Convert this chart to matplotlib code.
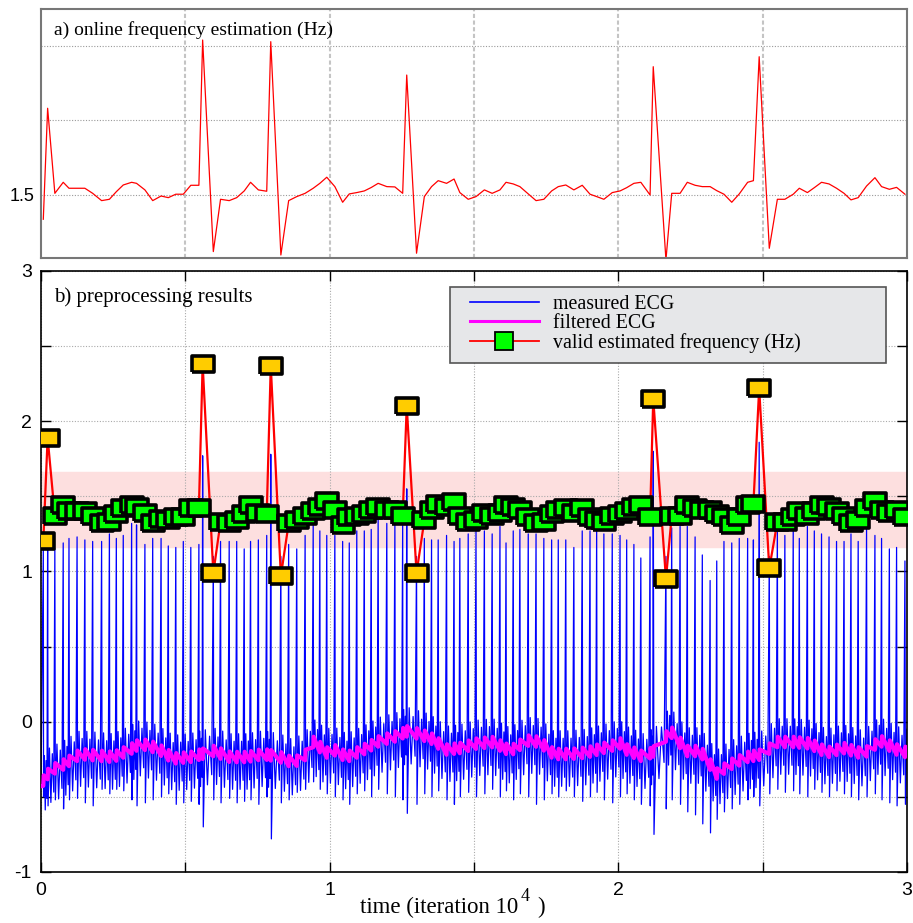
import numpy as np
import matplotlib.pyplot as plt
from matplotlib.lines import Line2D
from matplotlib.patches import Rectangle

# beat instants (time in 1e4 iterations) and frequency estimates (Hz)
beat_t = [0.008, 0.023, 0.048, 0.077, 0.097, 0.125, 0.152, 0.179, 0.210, 0.237,
          0.261, 0.285, 0.314, 0.331, 0.360, 0.387, 0.416, 0.441, 0.467, 0.493,
          0.519, 0.547, 0.560, 0.597, 0.622, 0.652, 0.678, 0.704, 0.726, 0.753,
          0.782, 0.796, 0.831, 0.858, 0.886, 0.915, 0.943, 0.966, 0.990, 1.018,
          1.045, 1.068, 1.094, 1.120, 1.144, 1.168, 1.198, 1.226, 1.253, 1.267,
          1.301, 1.328, 1.353, 1.376, 1.405, 1.431, 1.451, 1.480, 1.507, 1.536,
          1.563, 1.590, 1.611, 1.636, 1.659, 1.688, 1.715, 1.742, 1.769, 1.792,
          1.818, 1.846, 1.875, 1.902, 1.925, 1.950, 1.979, 2.006, 2.029, 2.054,
          2.078, 2.110, 2.121, 2.165, 2.185, 2.214, 2.239, 2.266, 2.291, 2.318,
          2.341, 2.366, 2.393, 2.419, 2.448, 2.468, 2.488, 2.523, 2.551, 2.577,
          2.606, 2.627, 2.655, 2.679, 2.704, 2.730, 2.756, 2.782, 2.806, 2.831,
          2.860, 2.889, 2.912, 2.939, 2.964, 2.993]

freq_online = [1.337, 2.082, 1.511, 1.585, 1.545, 1.545, 1.545, 1.511, 1.462, 1.471,
               1.522, 1.567, 1.585, 1.578, 1.534, 1.462, 1.493, 1.482, 1.505, 1.505,
               1.565, 1.565, 2.540, 1.120, 1.471, 1.462, 1.482, 1.527, 1.585, 1.534,
               1.525, 2.529, 1.097, 1.462, 1.489, 1.511, 1.545, 1.578, 1.619, 1.556,
               1.451, 1.507, 1.516, 1.527, 1.550, 1.578, 1.556, 1.554, 1.511, 2.305,
               1.109, 1.489, 1.556, 1.596, 1.578, 1.607, 1.516, 1.471, 1.489, 1.534,
               1.511, 1.534, 1.585, 1.574, 1.556, 1.507, 1.462, 1.471, 1.527, 1.556,
               1.567, 1.534, 1.565, 1.505, 1.489, 1.471, 1.516, 1.527, 1.549, 1.578,
               1.585, 1.500, 2.361, 1.064, 1.511, 1.511, 1.585, 1.565, 1.556, 1.556,
               1.529, 1.505, 1.451, 1.507, 1.585, 1.596, 2.428, 1.142, 1.471, 1.471,
               1.505, 1.545, 1.516, 1.549, 1.585, 1.574, 1.545, 1.511, 1.467, 1.482,
               1.560, 1.616, 1.556, 1.538, 1.551, 1.505]

freq_valid = [1.20, 1.89, 1.37, 1.44, 1.40, 1.40, 1.40, 1.37, 1.32, 1.33,
              1.38, 1.42, 1.44, 1.43, 1.39, 1.32, 1.35, 1.34, 1.36, 1.36,
              1.42, 1.42, 2.38, 0.99, 1.33, 1.32, 1.34, 1.38, 1.44, 1.39,
              1.38, 2.37, 0.97, 1.32, 1.34, 1.37, 1.40, 1.43, 1.47, 1.41,
              1.31, 1.36, 1.37, 1.38, 1.41, 1.43, 1.41, 1.41, 1.37, 2.10,
              0.99, 1.34, 1.41, 1.45, 1.43, 1.46, 1.37, 1.33, 1.34, 1.39,
              1.37, 1.39, 1.44, 1.43, 1.41, 1.36, 1.32, 1.33, 1.38, 1.41,
              1.42, 1.39, 1.42, 1.36, 1.34, 1.33, 1.37, 1.38, 1.40, 1.43,
              1.44, 1.36, 2.15, 0.95, 1.37, 1.37, 1.44, 1.42, 1.41, 1.41,
              1.38, 1.36, 1.31, 1.36, 1.44, 1.45, 2.22, 1.02, 1.33, 1.33,
              1.36, 1.40, 1.37, 1.40, 1.44, 1.43, 1.40, 1.37, 1.32, 1.34,
              1.42, 1.47, 1.41, 1.39, 1.41, 1.36]

rejected = [0, 1, 22, 23, 31, 32, 49, 50, 82, 83, 96, 97]
band_lo, band_hi = 1.16, 1.66

# ECG: R peak and S trough of each beat
ecg_peak = [1.15, 1.20, 1.15, 1.19, 1.22, 1.23, 1.21, 1.20, 1.20, 1.25,
            1.22, 1.24, 1.32, 1.31, 1.18, 1.22, 1.22, 1.17, 1.16, 1.20,
            1.16, 1.18, 1.77, 1.10, 1.20, 1.20, 1.20, 1.15, 1.20, 1.21,
            1.24, 1.78, 1.10, 1.18, 1.15, 1.24, 1.31, 1.27, 1.24, 1.24,
            1.20, 1.19, 1.27, 1.27, 1.28, 1.35, 1.32, 1.32, 1.32, 1.55,
            1.10, 1.22, 1.21, 1.21, 1.24, 1.20, 1.22, 1.25, 1.27, 1.27,
            1.25, 1.30, 1.19, 1.27, 1.28, 1.25, 1.25, 1.22, 1.21, 1.21,
            1.21, 1.16, 1.27, 1.27, 1.29, 1.25, 1.25, 1.24, 1.21, 1.18,
            1.09, 1.23, 1.80, 1.10, 1.29, 1.30, 1.30, 1.23, 1.11, 0.94,
            1.07, 1.20, 1.19, 1.22, 1.22, 1.21, 1.86, 1.10, 1.29, 1.24,
            1.30, 1.22, 1.30, 1.27, 1.25, 1.23, 1.20, 1.20, 1.25, 1.20,
            1.28, 1.24, 1.22, 1.15, 1.16, 1.07]

ecg_s = [-0.50, -0.56, -0.52, -0.58, -0.52, -0.51, -0.54, -0.56, -0.45, -0.48,
         -0.45, -0.46, -0.52, -0.56, -0.54, -0.52, -0.50, -0.48, -0.55, -0.54,
         -0.53, -0.55, -0.70, -0.52, -0.54, -0.51, -0.54, -0.53, -0.52, -0.55,
         -0.50, -0.78, -0.54, -0.52, -0.47, -0.45, -0.40, -0.45, -0.48, -0.50,
         -0.52, -0.55, -0.48, -0.46, -0.50, -0.45, -0.48, -0.50, -0.52, -0.61,
         -0.55, -0.48, -0.50, -0.46, -0.52, -0.55, -0.50, -0.47, -0.50, -0.48,
         -0.45, -0.50, -0.46, -0.52, -0.48, -0.50, -0.55, -0.52, -0.48, -0.50,
         -0.46, -0.50, -0.53, -0.50, -0.47, -0.52, -0.54, -0.50, -0.48, -0.52,
         -0.55, -0.56, -0.75, -0.58, -0.52, -0.55, -0.60, -0.62, -0.68, -0.74,
         -0.65, -0.60, -0.58, -0.55, -0.52, -0.50, -0.56, -0.48, -0.45, -0.47,
         -0.46, -0.48, -0.50, -0.45, -0.47, -0.50, -0.46, -0.48, -0.50, -0.52,
         -0.50, -0.48, -0.52, -0.54, -0.56, -0.55]

# filtered ECG (baseline drift)
base_t = [0.0, 0.031, 0.077, 0.135, 0.193, 0.250, 0.308, 0.343, 0.401, 0.459,
          0.516, 0.597, 0.655, 0.713, 0.770, 0.828, 0.874, 0.920, 0.943, 0.990,
          1.013, 1.059, 1.117, 1.174, 1.232, 1.272, 1.313, 1.347, 1.405, 1.451,
          1.509, 1.567, 1.625, 1.683, 1.729, 1.775, 1.833, 1.890, 1.948, 2.006,
          2.029, 2.087, 2.133, 2.179, 2.237, 2.283, 2.341, 2.387, 2.445, 2.502,
          2.549, 2.606, 2.664, 2.722, 2.780, 2.849, 2.906, 2.964, 3.0]
base_v = [-0.43, -0.34, -0.30, -0.23, -0.24, -0.25, -0.20, -0.16, -0.19, -0.26,
          -0.25, -0.21, -0.25, -0.25, -0.23, -0.25, -0.29, -0.23, -0.15, -0.22,
          -0.20, -0.25, -0.20, -0.14, -0.11, -0.075, -0.10, -0.12, -0.20, -0.19,
          -0.16, -0.15, -0.21, -0.14, -0.15, -0.23, -0.23, -0.22, -0.19, -0.16,
          -0.20, -0.25, -0.20, -0.075, -0.21, -0.21, -0.36, -0.30, -0.25, -0.23,
          -0.15, -0.15, -0.16, -0.22, -0.19, -0.23, -0.14, -0.20, -0.22]

# shape of one beat after the S wave (fraction of RR interval, offset to baseline)
wave_frac = [0.25, 0.45, 0.65, 0.85]
wave_off = [0.17, -0.20, 0.12, -0.14]

bt = np.array(beat_t)
rr = np.diff(np.append(bt, bt[-1] + 0.027))
ecg_x = [0.0]
ecg_y = [base_v[0]]
filt_x = [0.0]
filt_y = [base_v[0]]
for i, t0 in enumerate(bt):
    ecg_x += [t0, t0 + 0.06 * rr[i]]
    ecg_y += [ecg_peak[i], ecg_s[i]]
    for f, o in zip(wave_frac, wave_off):
        tt = t0 + f * rr[i]
        if tt > 3.0:
            break
        ecg_x.append(tt)
        ecg_y.append(np.interp(tt, base_t, base_v) + o)
    b = np.interp(t0, base_t, base_v)
    filt_x += [t0, t0 + 0.0015]
    filt_y += [b - 0.02, b + 0.05]
filt_x.append(3.0)
filt_y.append(base_v[-1])

serif = 'Liberation Serif'
sans = 'Liberation Sans'

fig = plt.figure(figsize=(9.13, 9.23), dpi=100)
ax1 = fig.add_axes([0.0449, 0.7205, 0.9485, 0.2697])
ax2 = fig.add_axes([0.0449, 0.0553, 0.9485, 0.6511])

# ---- a) online frequency estimation
ax1.plot(beat_t, freq_online, color='#ff0000', linewidth=0.9)
ax1.set_xlim(0, 3)
ax1.set_ylim(1.077, 2.748)
ax1.set_xticks([0.5, 1.0, 1.5, 2.0, 2.5])
ax1.set_xticklabels([])
ax1.set_yticks([1.5, 2.0, 2.5])
ax1.set_yticklabels(['1.5', '', ''], fontfamily=sans, fontsize=13)
ax1.tick_params(length=0, pad=5)
ax1.grid(axis='x', color='#c4c4c4', linestyle=(0, (2, 1.2)), linewidth=1.5)
ax1.grid(axis='y', color='#9a9a9a', linestyle=(0, (1, 1.5)), linewidth=0.8)
for s in ax1.spines.values():
    s.set_color('#777777')
    s.set_linewidth(1.5)
ax1.text(0.015, 0.895, 'a) online frequency estimation (Hz)', transform=ax1.transAxes,
         fontfamily=serif, fontsize=14)

# ---- b) preprocessing results
ax2.axhspan(band_lo, band_hi, color='#fddfdf', zorder=0.5)
ax2.plot(ecg_x, ecg_y, color='#0000ff', linewidth=0.9, zorder=2)
ax2.plot(filt_x, filt_y, color='#ff00ff', linewidth=3.0, zorder=3)
ax2.plot(beat_t, freq_valid, color='#ff0000', linewidth=1.6, zorder=4)

rect = [(-1, -0.76), (1, -0.76), (1, 0.76), (-1, 0.76), (-1, -0.76)]
for i, (t, f) in enumerate(zip(beat_t, freq_valid)):
    fc = '#ffcc00' if i in rejected else '#00ff00'
    ax2.plot(t, f, linestyle='none', marker=rect, markersize=15.5,
             markerfacecolor=fc, markeredgecolor='black', markeredgewidth=2.6, zorder=5)

ax2.set_xlim(0, 3)
ax2.set_ylim(-1, 3)
ax2.set_xticks([0, 1, 2, 3])
ax2.set_xticks([0.5, 1.5, 2.5], minor=True)
ax2.set_yticks([-1, 0, 1, 2, 3])
ax2.set_yticks([-0.5, 0.5, 1.5, 2.5], minor=True)
ax2.set_xticklabels(['0', '1', '2', '3'], fontfamily=sans, fontsize=14)
ax2.set_yticklabels(['-1', '0', '1', '2', '3'], fontfamily=sans, fontsize=14)
ax2.tick_params(which='both', direction='in', top=True, right=True, length=7,
                width=1.0)
ax2.tick_params(axis='x', pad=7)
ax2.tick_params(axis='y', pad=6.5)
ax2.grid(which='both', color='#aaaaaa', linestyle=(0, (1, 1.5)), linewidth=0.8)
ax2.set_axisbelow(True)
for s in ax2.spines.values():
    s.set_linewidth(1.2)

ax2.text(0.015, 0.948, 'b) preprocessing results', transform=ax2.transAxes,
         fontfamily=serif, fontsize=15)

# legend: grey box drawn separately so the entries can sit inset like the original
ax2.add_patch(Rectangle((0.472, 0.847), 0.504, 0.126, transform=ax2.transAxes,
                        facecolor='#e6e7e9', edgecolor='#555555', linewidth=1.2, zorder=9))
handles = [Line2D([], [], color='#0000ff', linewidth=1.2),
           Line2D([], [], color='#ff00ff', linewidth=2.2),
           Line2D([], [], color='#ff0000', linewidth=1.3, marker='s', markersize=13,
                  markerfacecolor='#00ff00', markeredgecolor='black', markeredgewidth=1.3)]
leg = ax2.legend(handles, ['measured ECG', 'filtered ECG', 'valid estimated frequency (Hz)'],
                 loc='upper left', bbox_to_anchor=(0.4865, 0.973), borderaxespad=0,
                 prop={'family': serif, 'size': 14.3}, handlelength=3.45,
                 labelspacing=0.0, borderpad=0.4, handletextpad=0.72, frameon=False)
leg.set_zorder(10)

# x label with a raised exponent
fig.text(360 / 913, 1 - 913 / 923, 'time (iteration 10', ha='left', va='baseline',
         fontfamily=serif, fontsize=16.5)
fig.text(521 / 913, 1 - 901 / 923, '4', ha='left', va='baseline',
         fontfamily=serif, fontsize=13)
fig.text(537 / 913, 1 - 913 / 923, ')', ha='left', va='baseline',
         fontfamily=serif, fontsize=16.5)

fig.savefig('out.png', dpi=100)
